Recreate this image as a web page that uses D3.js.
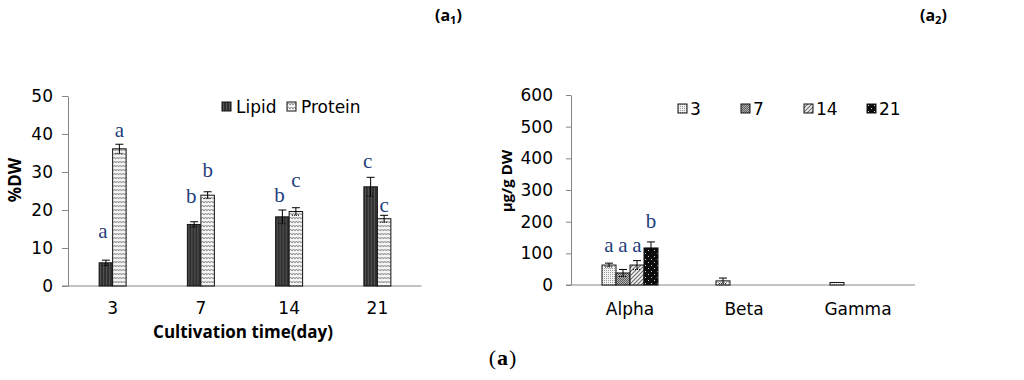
<!DOCTYPE html>
<html>
<head>
<meta charset="utf-8">
<script src="https://cdn.jsdelivr.net/npm/d3@7"></script>
<style>
  body { margin: 0; background: #fff; }
  text { font-family: "DejaVu Sans", sans-serif; fill: #000; }
  .title { font-family: "Open Sans", sans-serif; font-weight: bold; }
</style>
</head>
<body>
<svg width="1024" height="380"></svg>
<script>
// ---- left panel (a1): lipid / protein content, %DW
var days = ["3", "7", "14", "21"];
var nutrients = ["Lipid", "Protein"];
var lipid = [6.1, 16.2, 18.2, 26.1];
var lipidErr = [0.7, 0.7, 1.8, 2.5];
var protein = [36.1, 23.9, 19.6, 17.7];
var proteinErr = [1.2, 0.9, 1.0, 0.9];
var lipidLetters = ["a", "b", "b", "c"];
var proteinLetters = ["a", "b", "c", "c"];
var lipidLetterAt = [12.6, 21.8, 22.1, 31.0];
var proteinLetterAt = [39.2, 28.7, 26.0, 19.5];
var leftTicks = [0, 10, 20, 30, 40, 50];

// ---- right panel (a2): tocopherols, ug/g DW, one value per day
var vitamins = ["Alpha", "Beta", "Gamma"];
var alpha = [63, 38, 63, 117];
var alphaErr = [6, 11, 14, 19];
var beta = [13, 0, 0, 0];
var betaErr = [9, 0, 0, 0];
var gamma = [8, 0, 0, 0];
var gammaErr = [0, 0, 0, 0];
var alphaLetters = ["a", "a", "a", "b"];
var alphaLetterAt = [103, 103, 103, 180];
var rightTicks = [0, 100, 200, 300, 400, 500, 600];

var svg = d3.select("svg");
var axisColor = "#868686";
var letterColor = "#1f4080";
var fs = 17;

// patterns that mimic the excel fills
var defs = svg.append("defs");
function pattern(id, w, h) {
  return defs.append("pattern").attr("id", id)
    .attr("patternUnits", "userSpaceOnUse").attr("width", w).attr("height", h);
}
var p = pattern("pLipid", 3, 3);
p.append("rect").attr("width", 3).attr("height", 3).attr("fill", "#2f2f2f");
p.append("rect").attr("x", 1).attr("width", 1).attr("height", 3).attr("fill", "#555");

p = pattern("pProtein", 6, 4);
p.append("rect").attr("width", 6).attr("height", 4).attr("fill", "#f4f4f4");
p.append("path").attr("d", "M0,3 L1.5,1 L3,3 L4.5,1 L6,3").attr("fill", "none")
  .attr("stroke", "#8a8a8a").attr("stroke-width", 1);

p = pattern("pD3", 2, 2);
p.append("rect").attr("width", 2).attr("height", 2).attr("fill", "#f2f2f2");
p.append("rect").attr("width", 1).attr("height", 1).attr("fill", "#9a9a9a");

p = pattern("pD7", 2, 2);
p.append("rect").attr("width", 2).attr("height", 2).attr("fill", "#b4b4b4");
p.append("rect").attr("width", 1).attr("height", 1).attr("fill", "#5a5a5a");
p.append("rect").attr("x", 1).attr("y", 1).attr("width", 1).attr("height", 1).attr("fill", "#5a5a5a");

p = pattern("pD14", 4, 4);
p.append("rect").attr("width", 4).attr("height", 4).attr("fill", "#f4f4f4");
p.append("path").attr("d", "M-1,1 L1,-1 M0,4 L4,0 M3,5 L5,3").attr("stroke", "#6e6e6e").attr("stroke-width", 1.2);

p = pattern("pD21", 6, 6);
p.append("rect").attr("width", 6).attr("height", 6).attr("fill", "#0c0c0c");
p.append("rect").attr("x", 1).attr("y", 1).attr("width", 1).attr("height", 1).attr("fill", "#cfcfcf");
p.append("rect").attr("x", 4).attr("y", 4).attr("width", 1).attr("height", 1).attr("fill", "#cfcfcf");

// error bars: vertical line +/- e with caps
function errorBars(sel, y, w) {
  var eb = sel.filter(function(d) { return d.e > 0; }).append("g")
      .attr("stroke", "#000").attr("stroke-width", 1);
  eb.append("line")
      .attr("x1", w / 2).attr("x2", w / 2)
      .attr("y1", function(d) { return y(d.v - d.e); })
      .attr("y2", function(d) { return y(d.v + d.e); });
  eb.append("line")
      .attr("x1", w / 2 - 4).attr("x2", w / 2 + 4)
      .attr("y1", function(d) { return y(d.v + d.e); })
      .attr("y2", function(d) { return y(d.v + d.e); });
  eb.append("line")
      .attr("x1", w / 2 - 4).attr("x2", w / 2 + 4)
      .attr("y1", function(d) { return y(d.v - d.e); })
      .attr("y2", function(d) { return y(d.v - d.e); })
      .attr("stroke-dasharray", "1,1");
}

// ============ left chart ============
var xL = d3.scaleBand().domain(days).range([68.5, 421.5]);
var xLin = d3.scaleBand().domain(nutrients).range([0, 27]);
var yL = d3.scaleLinear().domain([0, 50]).range([286, 96]);
var leftFill = d3.scaleOrdinal().domain(nutrients).range(["url(#pLipid)", "url(#pProtein)"]);

var gL = svg.append("g");

gL.append("g")
    .attr("transform", "translate(68,0)")
    .call(d3.axisLeft(yL).tickValues(leftTicks).tickSize(6).tickSizeOuter(0).tickPadding(9))
    .call(function(g) {
      g.selectAll("line, path").attr("stroke", axisColor);
      g.selectAll("text").attr("font-size", fs).attr("font-family", null).attr("fill", "#000");
    });

gL.append("g")
    .attr("transform", "translate(0,286)")
    .call(d3.axisBottom(xL).tickSize(0).tickPadding(16))
    .call(function(g) {
      g.select(".domain").attr("d", "M" + (xL.range()[0] - 6.5) + ",0H" + xL.range()[1]).attr("stroke", axisColor);
      g.selectAll("text").attr("font-size", fs).attr("font-family", null).attr("fill", "#000");
    });

var leftRows = [];
days.forEach(function(d, i) {
  leftRows.push({day: d, key: "Lipid", v: lipid[i], e: lipidErr[i], l: lipidLetters[i], ly: lipidLetterAt[i]});
  leftRows.push({day: d, key: "Protein", v: protein[i], e: proteinErr[i], l: proteinLetters[i], ly: proteinLetterAt[i]});
});
var offL = (xL.bandwidth() - 27) / 2;

var barL = gL.selectAll(".barL").data(leftRows).enter().append("g")
    .attr("transform", function(d) { return "translate(" + (xL(d.day) + offL + xLin(d.key)) + ",0)"; });
barL.append("rect")
    .attr("y", function(d) { return yL(d.v); })
    .attr("width", xLin.bandwidth())
    .attr("height", function(d) { return yL(0) - yL(d.v); })
    .attr("fill", function(d) { return leftFill(d.key); })
    .attr("stroke", "#111").attr("stroke-width", 1);
errorBars(barL, yL, xLin.bandwidth());
barL.append("text")
    .attr("x", function(d) { return d.key === "Lipid" ? xLin.bandwidth() / 2 - 3 : xLin.bandwidth() / 2; })
    .attr("y", function(d) { return yL(d.ly); })
    .attr("text-anchor", "middle")
    .style("font-family", "'Liberation Serif', serif")
    .attr("font-size", 21)
    .style("fill", letterColor)
    .text(function(d) { return d.l; });

// legend
var legL = gL.selectAll(".legL").data(nutrients).enter().append("g")
    .attr("transform", function(d, i) { return "translate(" + (222 + i * 65) + ",102)"; });
legL.append("rect").attr("width", 9).attr("height", 9)
    .attr("fill", leftFill).attr("stroke", "#111");
legL.append("text").attr("x", 14).attr("y", 11).attr("font-size", fs).text(function(d) { return d; });

svg.append("text").attr("class", "title")
    .attr("transform", "translate(21,180) rotate(-90)")
    .attr("text-anchor", "middle").attr("font-size", 17)
    .text("%DW");
svg.append("text").attr("class", "title")
    .attr("x", 243).attr("y", 338)
    .attr("text-anchor", "middle").attr("font-size", 17)
    .text("Cultivation time(day)");

// ============ right chart ============
var xR = d3.scaleBand().domain(vitamins).range([573, 915]);
var xRin = d3.scaleBand().domain(days).range([0, 56]);
var yR = d3.scaleLinear().domain([0, 600]).range([285, 95]);
var rightFill = d3.scaleOrdinal().domain(days).range(["url(#pD3)", "url(#pD7)", "url(#pD14)", "url(#pD21)"]);

var gR = svg.append("g");
gR.append("g")
    .attr("transform", "translate(571,0)")
    .call(d3.axisLeft(yR).tickValues(rightTicks).tickSize(5).tickSizeOuter(0).tickPadding(13))
    .call(function(g) {
      g.selectAll("line, path").attr("stroke", axisColor);
      g.selectAll("text").attr("font-size", fs).attr("font-family", null).attr("fill", "#000");
    });
gR.append("g")
    .attr("transform", "translate(0,285)")
    .call(d3.axisBottom(xR).tickSize(0).tickPadding(18))
    .call(function(g) {
      g.select(".domain").attr("d", "M" + (xR.range()[0] - 7) + ",0H" + xR.range()[1]).attr("stroke", axisColor);
      g.selectAll("text").attr("font-size", fs).attr("font-family", null).attr("fill", "#000");
    });

var vals = [alpha, beta, gamma], errs = [alphaErr, betaErr, gammaErr];
var rightRows = [];
vitamins.forEach(function(vit, j) {
  days.forEach(function(d, i) {
    if (vals[j][i] > 0) {
      rightRows.push({vit: vit, key: d, v: vals[j][i], e: errs[j][i],
        l: j === 0 ? alphaLetters[i] : "", ly: j === 0 ? alphaLetterAt[i] : 0});
    }
  });
});
var offR = (xR.bandwidth() - 56) / 2;
var barR = gR.selectAll(".barR").data(rightRows).enter().append("g")
    .attr("transform", function(d) { return "translate(" + (xR(d.vit) + offR + xRin(d.key)) + ",0)"; });
barR.append("rect")
    .attr("y", function(d) { return yR(d.v); })
    .attr("width", xRin.bandwidth())
    .attr("height", function(d) { return yR(0) - yR(d.v); })
    .attr("fill", function(d) { return rightFill(d.key); })
    .attr("stroke", "#111").attr("stroke-width", 1);
errorBars(barR, yR, xRin.bandwidth());
barR.append("text")
    .attr("x", xRin.bandwidth() / 2)
    .attr("y", function(d) { return yR(d.ly); })
    .attr("text-anchor", "middle")
    .style("font-family", "'Liberation Serif', serif")
    .attr("font-size", 21)
    .style("fill", letterColor)
    .text(function(d) { return d.l; });

var legR = gR.selectAll(".legR").data(days).enter().append("g")
    .attr("transform", function(d, i) { return "translate(" + (678 + i * 63) + ",104)"; });
legR.append("rect").attr("width", 9).attr("height", 9)
    .attr("fill", rightFill).attr("stroke", "#111");
legR.append("text").attr("x", 12).attr("y", 11).attr("font-size", fs).text(function(d) { return d; });

svg.append("text").attr("class", "title")
    .attr("transform", "translate(512,181) rotate(-90)")
    .attr("text-anchor", "middle").attr("font-size", 15)
    .text("μg/g DW");

// panel labels
function panelLabel(x, sub) {
  var t = svg.append("text").attr("class", "title").attr("x", x).attr("y", 21).attr("font-size", 16);
  t.append("tspan").text("(a");
  t.append("tspan").attr("font-size", 11).attr("dy", 3).text(sub);
  t.append("tspan").attr("dy", -3).text(")");
}
panelLabel(435, "1");
panelLabel(920, "2");

var cap = svg.append("text").attr("x", 503).attr("y", 365).attr("text-anchor", "middle")
    .style("font-family", "'Liberation Serif', serif").attr("font-size", 22).attr("letter-spacing", 1);
cap.append("tspan").text("(");
cap.append("tspan").attr("font-weight", "bold").text("a");
cap.append("tspan").text(")");
</script>
</body>
</html>
